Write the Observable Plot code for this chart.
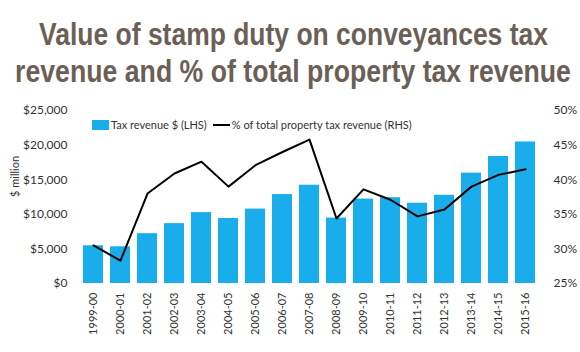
<!DOCTYPE html>
<html><head><meta charset="utf-8">
<script src="https://cdn.jsdelivr.net/npm/d3@7"></script>
<script src="https://cdn.jsdelivr.net/npm/@observablehq/plot@0.6"></script>
<style>
body{margin:0;background:#fff;width:580px;height:352px;overflow:hidden;font-family:Lato,"Open Sans",sans-serif;}
#title{display:block;}
#wrap{position:relative;}
#legend{position:absolute;left:92px;top:26px;font-size:11px;color:#333;display:flex;align-items:center;white-space:nowrap;}
.sw{display:inline-block;width:17px;height:10px;background:#19aeeb;margin-right:2px;}
.ln{display:inline-block;width:17px;height:2px;background:#000;margin:0 2px 0 6px;}
</style></head>
<body>
<svg id="title" width="580" height="92"></svg>
<div id="wrap"><div id="chart"></div>
<div id="legend"><span class="sw"></span>Tax revenue $ (LHS)<span class="ln"></span>% of total property tax revenue (RHS)</div></div>
<script>
const titleLines = ["Value of stamp duty on conveyances tax", "revenue and % of total property tax revenue"];
const years = ["1999-00","2000-01","2001-02","2002-03","2003-04","2004-05","2005-06","2006-07","2007-08","2008-09","2009-10","2010-11","2011-12","2012-13","2013-14","2014-15","2015-16"];
const revenue = [5450,5300,7200,8650,10250,9400,10750,12850,14200,9450,12200,12400,11600,12750,15950,18350,20450];
const share = [30.5,28.3,38.0,40.9,42.6,39.0,42.1,44.0,45.8,34.4,38.6,37.1,34.7,35.7,39.0,40.7,41.5];
const leftTicks = [0,5000,10000,15000,20000,25000];
const rightTicks = [25,30,35,40,45,50];

// title: condensed bold via horizontal scaling
const tsvg = d3.select("#title");
const tspec = [{cx:293.5, y:45, w:509}, {cx:293, y:82, w:556}];
titleLines.forEach((t,i)=>{
  const g = tsvg.append("g");
  const txt = g.append("text").attr("x",0).attr("y",0).attr("text-anchor","middle")
    .attr("font-family","'Liberation Sans', Arial, sans-serif").attr("font-weight","bold")
    .attr("font-size",32).attr("fill","#6b5f58").text(t);
  const nat = txt.node().getComputedTextLength();
  const s = tspec[i].w / nat;
  g.attr("transform",`translate(${tspec[i].cx},${tspec[i].y}) scale(${s},1)`);
});

const toLeft = p => (p - 25) * 1000;
const rows = years.map((y,i)=>({year:y, revenue:revenue[i], share:share[i], sy:toLeft(share[i])}));

const chart = Plot.plot({
  width:580, height:260,
  marginTop:18, marginBottom:69, marginLeft:75, marginRight:38,
  style:{fontFamily:"Lato, 'Open Sans', sans-serif", fontSize:"12px", color:"#333", background:"#fff"},
  x:{domain:years, padding:0.27},
  y:{domain:[0,25000]},
  marks:[
    Plot.barY(rows,{x:"year", y:"revenue", fill:"#19aeeb"}),
    Plot.line(rows,{x:"year", y:"sy", stroke:"#000", strokeWidth:2}),
    Plot.axisX({tickSize:0, tickPadding:9, tickRotate:-90, fontSize:11, label:null}),
    Plot.axisY({anchor:"left", ticks:leftTicks, tickSize:0, tickPadding:8, tickFormat:d=>"$"+d3.format(",")(d), label:null}),
    Plot.text(["$ million"],{frameAnchor:"left", dx:-60, rotate:-90, fontSize:11, fill:"#333", text:d=>d}),
    Plot.axisY({anchor:"right", ticks:rightTicks.map(toLeft), tickSize:0, tickPadding:11, tickFormat:d=>(d/1000+25)+"%", label:null})
  ]
});
document.getElementById("chart").appendChild(chart);
</script>
</body></html>
